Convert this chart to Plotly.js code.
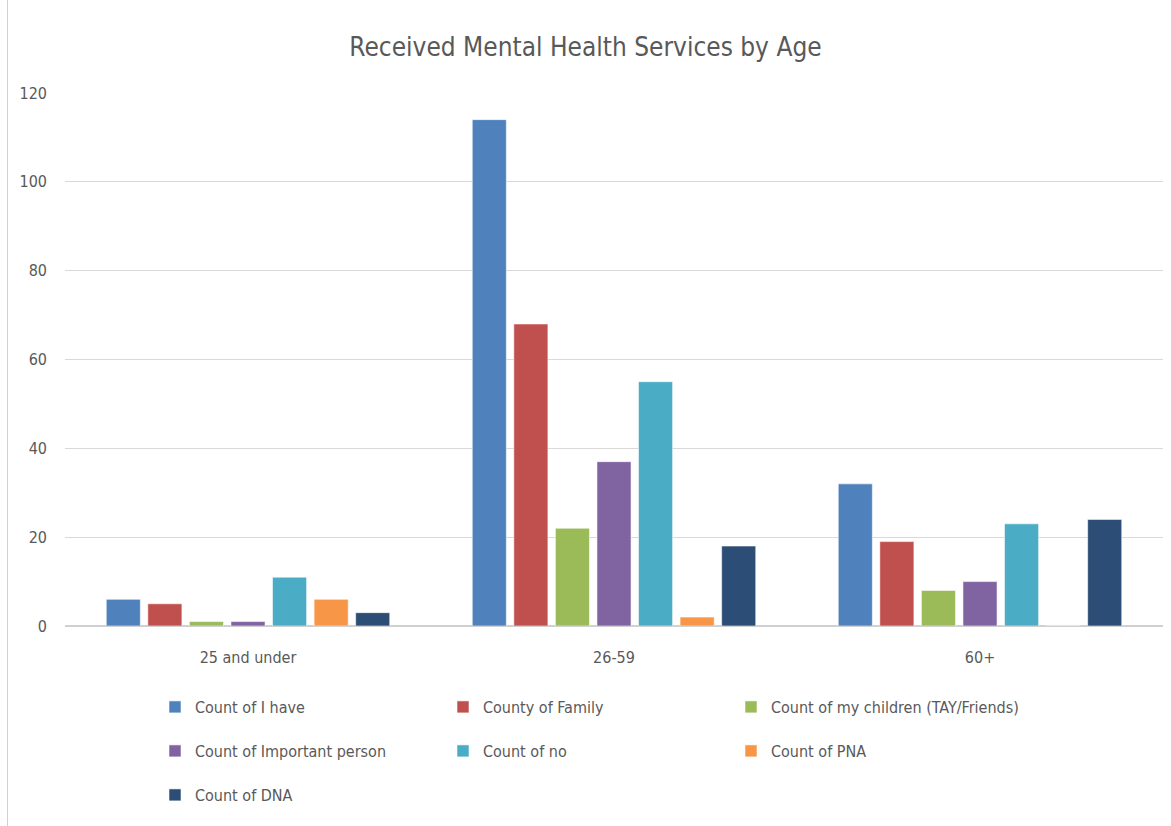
<!DOCTYPE html>
<html>
<head>
<meta charset="utf-8">
<script src="https://cdn.plot.ly/plotly-3.0.1.min.js"></script>
<style>
  html, body { margin: 0; padding: 0; background: #fff; }
  #wrap { position: relative; width: 1171px; height: 826px; }
  #edge { position: absolute; left: 7px; top: 0; width: 1px; height: 826px; background: #d0d0d0; }
  #chart { width: 1171px; height: 826px; }
</style>
</head>
<body>
<div id="wrap"><div id="chart"></div><div id="edge"></div></div>
<script>
const categories = ["25 and under", "26-59", "60+"];
const seriesNames = [
  "Count of I have", "County of Family", "Count of my children (TAY/Friends)",
  "Count of Important person", "Count of no", "Count of PNA", "Count of DNA"
];
const iHave      = [6, 114, 32];
const family     = [5, 68, 19];
const children   = [1, 22, 8];
const important  = [1, 37, 10];
const no         = [11, 55, 23];
const pna        = [6, 2, 0];
const dna        = [3, 18, 24];
const seriesValues = [iHave, family, children, important, no, pna, dna];
const colors = ["#4F81BD", "#C0504D", "#9BBB59", "#8064A2", "#4BACC6", "#F79646", "#2C4D75"];
const legendRow = ["legend", "legend", "legend", "legend2", "legend2", "legend2", "legend3"];

const FONT = "'Liberation Sans Narrow', 'DejaVu Sans Condensed', 'Roboto', sans-serif";

const traces = seriesNames.map((name, i) => ({
  type: "bar",
  name: name,
  x: categories,
  y: seriesValues[i],
  legend: legendRow[i],
  marker: { color: colors[i], line: { color: "rgba(255,255,255,0.55)", width: 1 } },
  hoverinfo: "x+y+name"
}));

const ML = 65, MR = 8, MT = 93, MB = 200;
const plotW = 1171 - ML - MR;
const plotH = 826 - MT - MB;

const legendBase = {
  orientation: "h",
  xref: "paper", yref: "paper",
  xanchor: "left", yanchor: "middle",
  entrywidth: 243, entrywidthmode: "pixels",
  font: { family: FONT, size: 16, color: "#595959" },
  bgcolor: "rgba(0,0,0,0)",
  itemclick: false
};
function ly(py) { return (826 - MB - py) / plotH; }
const lx = (155 - ML) / plotW;

const layout = {
  width: 1171, height: 826,
  margin: { l: ML, r: MR, t: MT, b: MB },
  paper_bgcolor: "#fff", plot_bgcolor: "#fff",
  title: {
    text: "Received Mental Health Services by Age",
    font: { family: FONT, size: 26, color: "#595959" },
    x: 0.5, xref: "container", xanchor: "center",
    y: 1 - 47 / 826, yref: "container", yanchor: "middle"
  },
  barmode: "group",
  bargap: 0.205,
  bargroupgap: 0.18,
  xaxis: {
    type: "category",
    tickfont: { family: FONT, size: 16, color: "#595959" },
    showgrid: false, showline: false, ticks: "",
    ticklabelstandoff: 20
  },
  yaxis: {
    range: [0, 120],
    dtick: 20,
    tickfont: { family: FONT, size: 16, color: "#595959" },
    gridcolor: "#d9d9d9", gridwidth: 1,
    zeroline: true, zerolinecolor: "#d0d0d0", zerolinewidth: 1.5,
    showline: false, ticks: "",
    ticklabelstandoff: 17
  },
  showlegend: true,
  legend: Object.assign({}, legendBase, { x: lx, y: ly(707) }),
  legend2: Object.assign({}, legendBase, { x: lx, y: ly(751) }),
  legend3: Object.assign({}, legendBase, { x: lx, y: ly(795) })
};

Plotly.newPlot("chart", traces, layout, { displayModeBar: false, staticPlot: true });
</script>
</body>
</html>
